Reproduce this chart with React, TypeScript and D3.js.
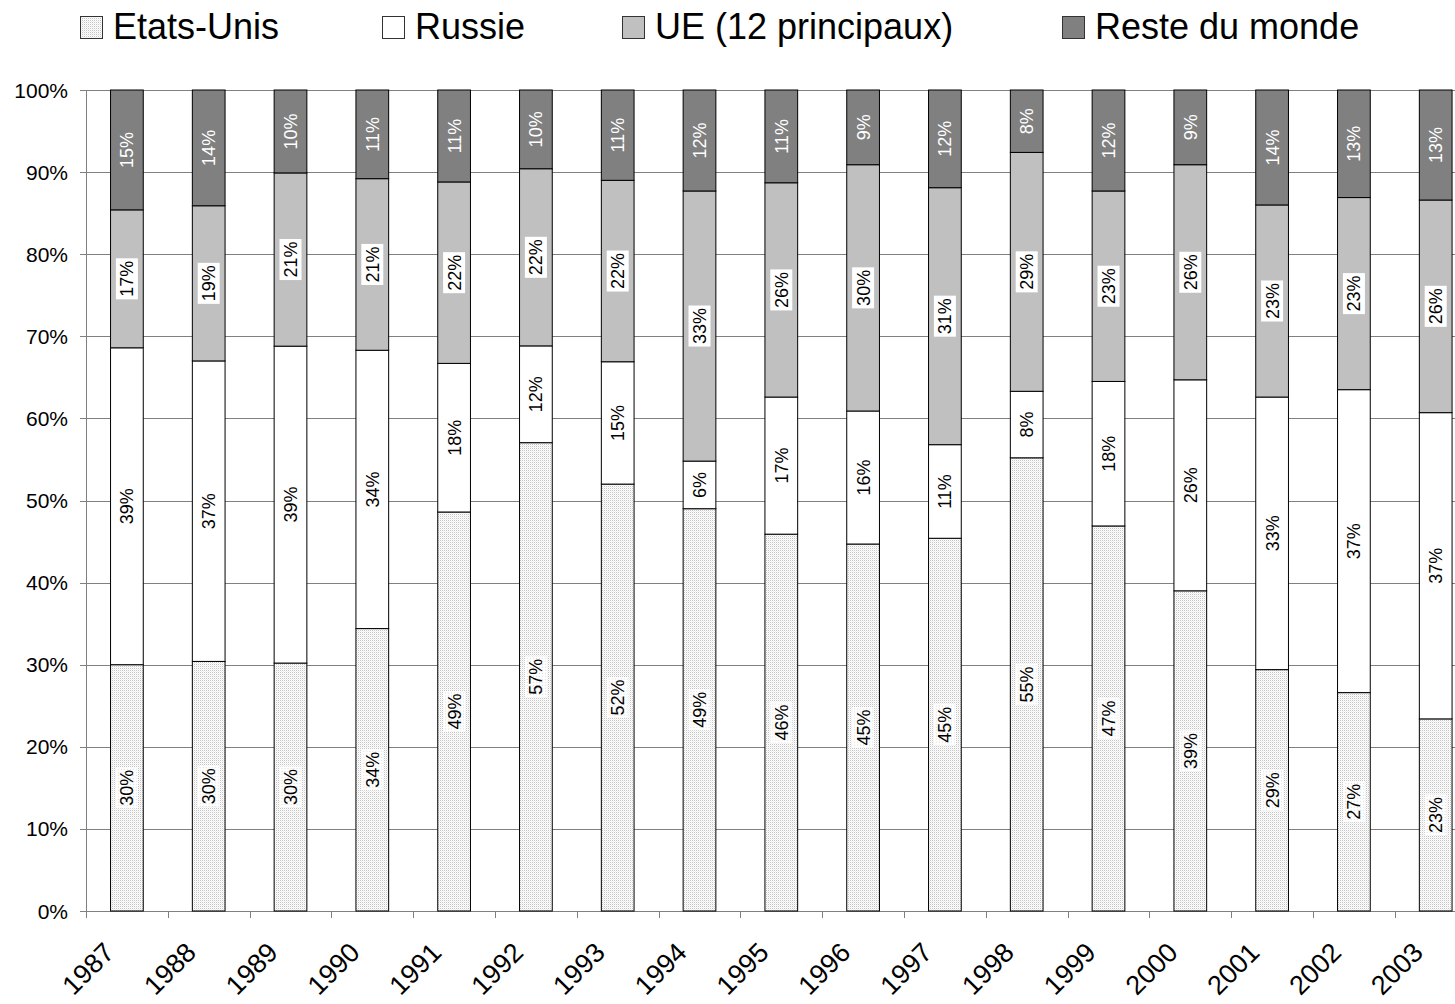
import React from 'react';
import * as d3 from 'd3';

const years = ['1987','1988','1989','1990','1991','1992','1993','1994','1995','1996','1997','1998','1999','2000','2001','2002','2003'];
const seriesNames = ['Etats-Unis', 'Russie', 'UE (12 principaux)', 'Reste du monde'];
const etatsUnis = [30, 30.4, 30.2, 34.4, 48.6, 57.1, 52, 49, 45.9, 44.7, 45.4, 55.2, 46.9, 39, 29.4, 26.6, 23.4];
const russie = [38.6, 36.6, 38.6, 33.9, 18.1, 11.8, 14.9, 5.8, 16.7, 16.2, 11.4, 8.1, 17.6, 25.7, 33.2, 36.9, 37.3];
const ue = [16.8, 18.9, 21.1, 20.9, 22.1, 21.6, 22.1, 32.9, 26.1, 30, 31.3, 29.1, 23.2, 26.2, 23.4, 23.4, 25.9];
const reste = [14.6, 14.1, 10.1, 10.8, 11.2, 9.6, 11, 12.3, 11.3, 9.1, 11.9, 7.6, 12.3, 9.1, 14, 13.1, 13.4];
const yTicks = [0, 0.1, 0.2, 0.3, 0.4, 0.5, 0.6, 0.7, 0.8, 0.9, 1];

const FONT = '"Liberation Sans", Arial, sans-serif';
const fills = ['url(#usPattern)', '#ffffff', '#c0c0c0', '#808080'];
const labelBg = ['url(#usLabel)', '#ffffff', '#ffffff', 'none'];
const labelColor = ['#000', '#000', '#000', '#fff'];

const charW = (s: string) => {
  let w = 0;
  for (const c of s) w += c === '%' ? 0.889 : 0.556;
  return w;
};

export default function App() {
  const W = 1455, H = 1004;
  const left = 86, top = 90, bottom = 911;
  const step = 81.8;
  const keys = ['us', 'ru', 'ue', 'rest'];
  const rows = years.map((y, i) => ({ year: y, us: etatsUnis[i], ru: russie[i], ue: ue[i], rest: reste[i] }));
  const stack = d3.stack<any>().keys(keys).offset(d3.stackOffsetExpand);
  const series = stack(rows);
  const x = d3.scaleBand().domain(years).range([left, left + step * years.length]).padding(0);
  const y = d3.scaleLinear().domain([0, 1]).range([bottom, top]);
  const bw = x.bandwidth();
  const barW = bw * 0.4;
  const fmt = d3.format('.0%');
  const raw = [etatsUnis, russie, ue, reste];
  const fs = 18;

  const legendX = [80, 382, 622, 1062];

  return (
    <svg width={W} height={H} style={{ position: 'absolute', left: 0, top: 0, background: '#fff' }} fontFamily={FONT}>
      <defs>
        <pattern id="usPattern" width="2" height="2" patternUnits="userSpaceOnUse">
          <rect width="2" height="2" fill="#ffffff" />
          <rect x="0" y="0" width="1" height="1" fill="#c4c4c4" />
          <rect x="1" y="1" width="1" height="1" fill="#eeeeee" />
        </pattern>
        <pattern id="usLabel" width="3" height="3" patternUnits="userSpaceOnUse">
          <rect width="3" height="3" fill="#ffffff" />
          <rect x="0" y="0" width="1" height="1" fill="#dadada" />
        </pattern>
      </defs>
      <rect width={W} height={H} fill="#fff" />

      {/* Legend */}
      {seriesNames.map((n, i) => (
        <g key={n}>
          <rect x={legendX[i] + 0.5} y={16.5} width={22} height={22} fill={fills[i]} stroke="#333" strokeWidth={1} />
          <text x={legendX[i] + 33} y={39} fontSize={36} fill="#000">{n}</text>
        </g>
      ))}

      {/* Gridlines */}
      {yTicks.map(t => (
        <line key={'g' + t} x1={left - 6} x2={W} y1={Math.round(y(t)) + 0.5} y2={Math.round(y(t)) + 0.5} stroke="#808080" strokeWidth={1} />
      ))}
      {yTicks.map(t => (
        <text key={'yl' + t} x={68} y={y(t)} dy="0.36em" textAnchor="end" fontSize={21} fill="#000">{fmt(t)}</text>
      ))}
      {/* Axes */}
      <line x1={left + 0.5} x2={left + 0.5} y1={top} y2={bottom + 7} stroke="#808080" />
      {years.map(yr => (
        <line key={'xt' + yr} x1={Math.round(x(yr)!) + 0.5} x2={Math.round(x(yr)!) + 0.5} y1={bottom} y2={bottom + 7} stroke="#808080" />
      ))}

      {/* Bars */}
      {series.map((s, si) => (
        <g key={'s' + si}>
          {s.map((d, i) => {
            const yr = years[i];
            const bx = x(yr)! + (bw - barW) / 2;
            return (
              <rect key={yr} x={bx} y={y(d[1])} width={barW} height={y(d[0]) - y(d[1])} fill={fills[si]} stroke="#000" strokeWidth={1} />
            );
          })}
        </g>
      ))}

      {/* Value labels */}
      {series.map((s, si) => (
        <g key={'l' + si}>
          {s.map((d, i) => {
            const yr = years[i];
            const cx = x(yr)! + bw / 2;
            const cy = (y(d[0]) + y(d[1])) / 2;
            const txt = Math.round(raw[si][i]) + '%';
            const tl = charW(txt) * fs;
            return (
              <g key={yr} transform={`translate(${cx},${cy}) rotate(-90)`}>
                {labelBg[si] !== 'none' && (
                  <rect x={-tl / 2 - 2.5} y={-11} width={tl + 5} height={22} fill={labelBg[si]} />
                )}
                <text x={0} y={0} dy="0.36em" textAnchor="middle" fontSize={fs} fill={labelColor[si]}>{txt}</text>
              </g>
            );
          })}
        </g>
      ))}

      {/* X labels */}
      {years.map(yr => (
        <text key={'xl' + yr} transform={`translate(${x(yr)! + bw / 2 - 11},${bottom + 43}) rotate(-45)`} textAnchor="end" fontSize={27} fill="#000">{yr}</text>
      ))}
    </svg>
  );
}
